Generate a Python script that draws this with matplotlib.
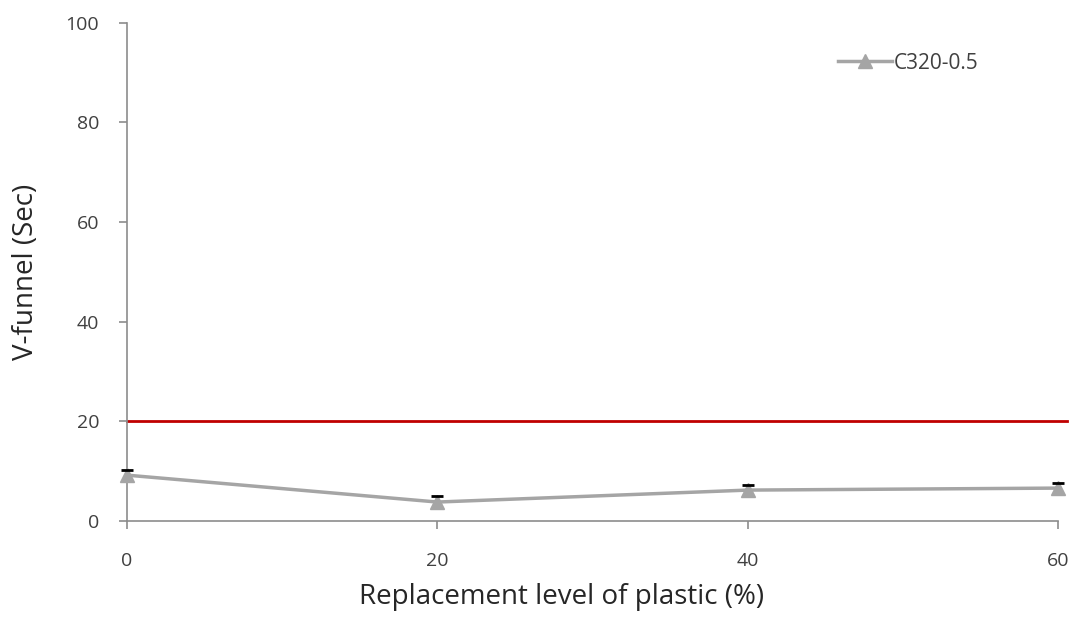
import matplotlib.pyplot as plt

replacement = [0, 20, 40, 60]
vfunnel = [9.2, 3.8, 6.2, 6.6]
err_up = [1.0, 1.2, 1.0, 1.0]
limit = 20
series_label = "C320-0.5"

plt.rcParams['font.family'] = ['Open Sans', 'DejaVu Sans']

fig = plt.figure(figsize=(10.8, 6.18), dpi=100)
ax = fig.add_axes([0.1176, 0.157, 0.862, 0.806])

ax.axhline(limit, xmin=0, xmax=1.01, color='#C00000', lw=2, clip_on=False, zorder=1)

# upper-only error bars
tops = [v + e for v, e in zip(vfunnel, err_up)]
ax.vlines(replacement, vfunnel, tops, color='black', lw=1, zorder=2)
ax.plot(replacement, tops, ls='none', marker='_', markersize=9, mew=2,
        color='black', zorder=4, clip_on=False)
ax.plot(replacement, vfunnel, color='#A5A5A5', lw=2.5, marker='^',
        markersize=10, label=series_label, zorder=3, clip_on=False)

ax.set_xlim(0, 60)
ax.set_ylim(0, 100)
ax.set_xticks(replacement)
ax.set_yticks([0, 20, 40, 60, 80, 100])

for s in ['top', 'right']:
    ax.spines[s].set_visible(False)
for s in ['left', 'bottom']:
    ax.spines[s].set_color('#8C8C8C')
    ax.spines[s].set_linewidth(1.2)
ax.tick_params(colors='#8C8C8C', labelcolor='#404040', labelsize=14, length=6, width=1.2)
ax.tick_params(axis='y', pad=14)
ax.tick_params(axis='x', pad=16)

ax.set_xlabel("Replacement level of plastic (%)", fontsize=20, color='#262626')
ax.set_ylabel("V-funnel (Sec)", fontsize=20, color='#262626')
ax.xaxis.set_label_coords(0.467, -0.125)
ax.yaxis.set_label_coords(-0.093, 0.5)

ax.legend(loc='upper right', bbox_to_anchor=(0.935, 0.978), frameon=False,
          fontsize=15, handlelength=2.6, handletextpad=0.1, labelcolor='#404040')

fig.savefig('out.png', dpi=100)
